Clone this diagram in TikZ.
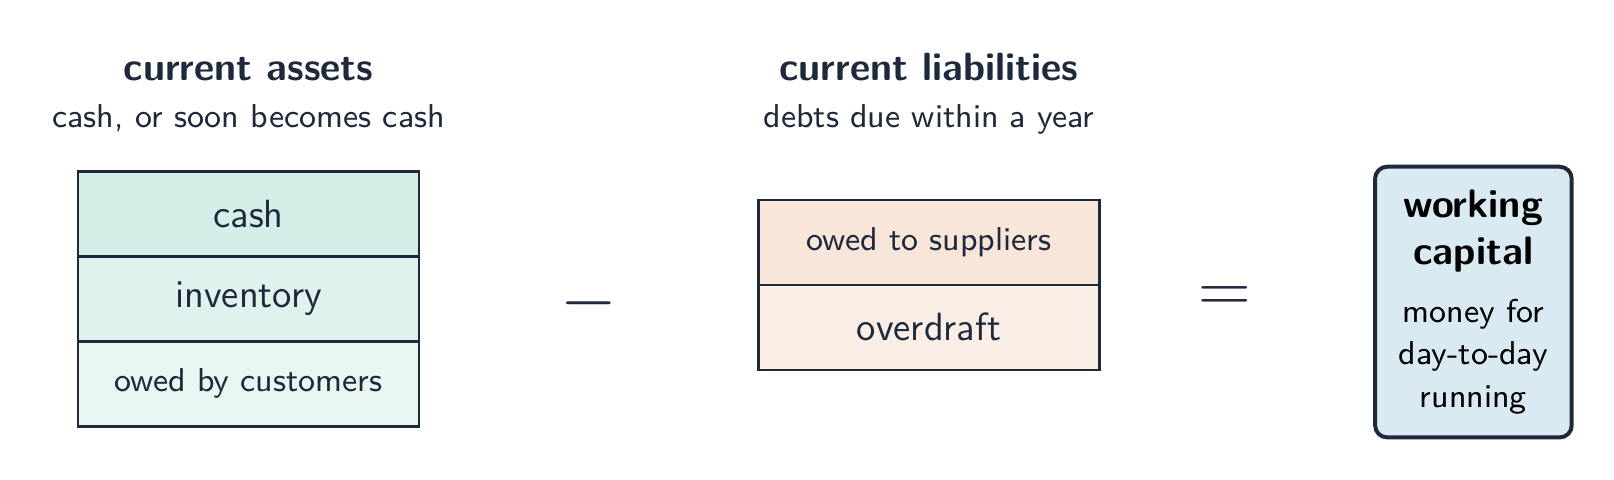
\documentclass[tikz,border=0pt]{standalone}
\usepackage{fontspec}
\usepackage[HTML]{xcolor}
\usetikzlibrary{positioning}

\definecolor{inkc}{HTML}{1E293B}
\definecolor{cashc}{HTML}{D5EEE8}
\definecolor{invc}{HTML}{E0F2EE}
\definecolor{custc}{HTML}{EAF6F2}
\definecolor{suppc}{HTML}{F9E6DB}
\definecolor{odc}{HTML}{FBEEE6}
\definecolor{wcc}{HTML}{DAEAF3}

\newcommand\bigtxt{\sffamily\fontsize{11.2}{13.4}\selectfont}
\newcommand\smalltxt{\sffamily\fontsize{9.4}{12.05}\selectfont}
\newcommand\wcbold{\sffamily\bfseries\fontsize{11.3}{12.05}\selectfont}

\begin{document}
\begin{tikzpicture}[
  cell/.style={draw=inkc, line width=0.7pt, outer sep=0pt, inner sep=0pt,
    minimum width=3.407cm, minimum height=0.849cm, text=inkc, font=\bigtxt},
  title/.style={anchor=base, text=inkc, font=\bigtxt\bfseries},
  subtitle/.style={anchor=base, text=inkc, font=\smalltxt},
  op/.style={text=inkc, font=\fontsize{19.5}{22}\selectfont}]
\useasboundingbox (0,0) rectangle (16.14,4.8);

% assets
\node[cell, fill=cashc] (cash) at (2.486,2.659) {cash};
\node[cell, fill=invc, below=0pt of cash] (inv) {inventory};
\node[cell, fill=custc, below=0pt of inv, font=\smalltxt] (cust) {owed by customers};
\node[title] (assetsT) at (2.486,3.995) {current assets};
\node[subtitle] (assetsS) at (2.486,3.524) {cash, or soon becomes cash};

\node[op] (minus) at (5.888,1.765) {$-$};

% liabilities
\node[cell, fill=suppc, font=\smalltxt] (supp) at (9.29,2.376) {owed to suppliers};
\node[cell, fill=odc, below=0pt of supp] (od) {overdraft};
\node[title] (liabT) at (9.29,3.995) {current liabilities};
\node[subtitle] (liabS) at (9.29,3.524) {debts due within a year};

\node[op] (equals) at (12.249,1.805) {$=$};

% result
\node[draw=inkc, line width=1.13pt, fill=wcc, rounded corners=0.12cm,
  minimum width=1.966cm, minimum height=2.707cm, align=center, font=\smalltxt] (wc) at (14.734,1.779)
  {{\wcbold working}\\[1.13pt]{\wcbold capital}\\[4.6pt]money for\\day-to-day\\running};
\end{tikzpicture}
\end{document}
